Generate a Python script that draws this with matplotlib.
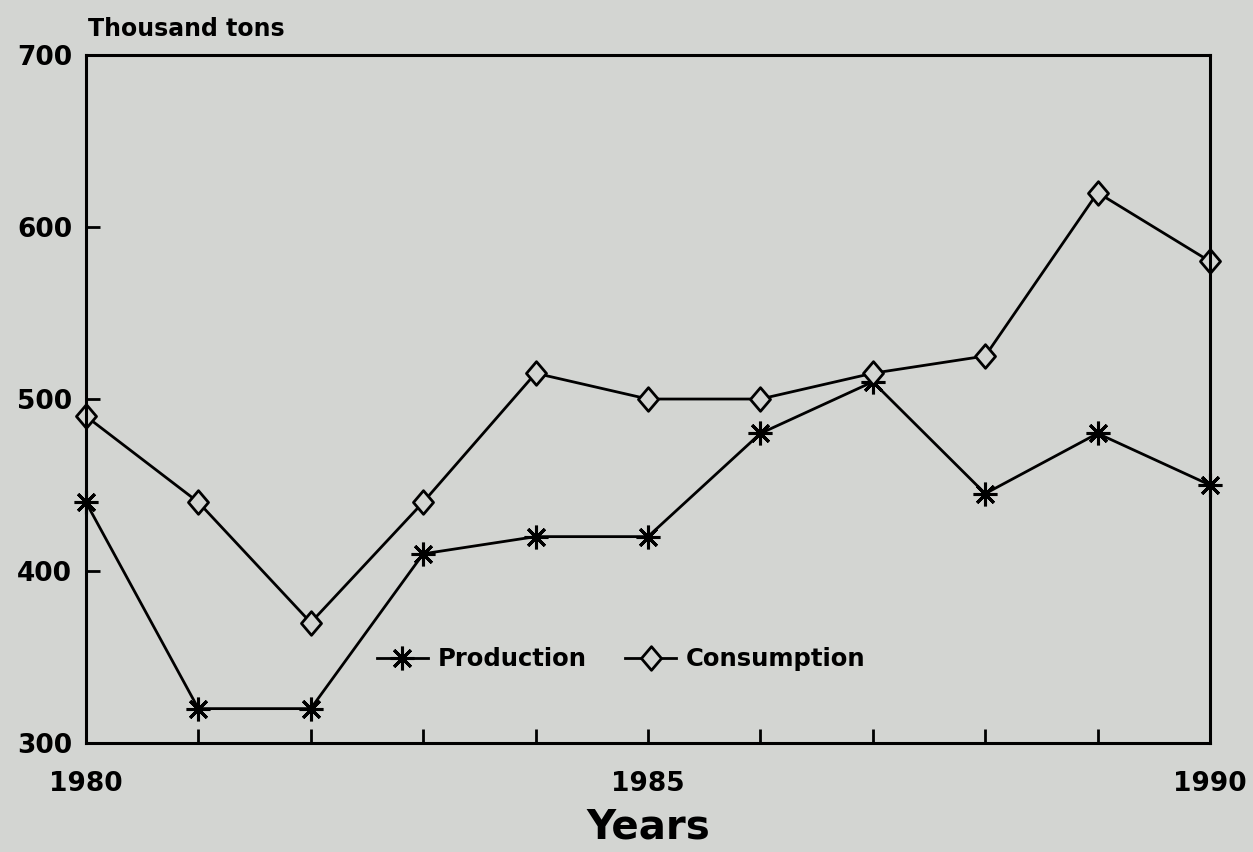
import matplotlib.pyplot as plt
from matplotlib.path import Path

years = [1980, 1981, 1982, 1983, 1984, 1985, 1986, 1987, 1988, 1989, 1990]
production = [440, 320, 320, 410, 420, 420, 480, 510, 445, 480, 450]
consumption = [490, 440, 370, 440, 515, 500, 500, 515, 525, 620, 580]

year_labels = [1980, 1985, 1990]
y_ticks = [300, 400, 500, 600, 700]

bg = '#d3d5d2'
plt.rcParams['font.family'] = 'DejaVu Sans'
plt.rcParams['font.weight'] = 'bold'

# open diamond, a bit taller than wide
diamond = Path([(0, 1), (0.85, 0), (0, -1), (-0.85, 0), (0, 1)],
               [Path.MOVETO, Path.LINETO, Path.LINETO, Path.LINETO, Path.CLOSEPOLY])

fig = plt.figure(figsize=(12.53, 8.52), dpi=100, facecolor=bg)
ax = fig.add_axes([0.0686, 0.1279, 0.8971, 0.8075], facecolor=bg)

ax.plot(years, production, color='black', linewidth=2.0,
        marker=(8, 2, 0), markersize=17, markeredgewidth=2.2,
        label='Production', clip_on=False)
ax.plot(years, consumption, color='black', linewidth=2.0,
        marker=diamond, markersize=17, markeredgewidth=2.0,
        markerfacecolor=bg, markeredgecolor='black',
        label='Consumption', clip_on=False)

ax.set_xlim(1980, 1990)
ax.set_ylim(300, 700)
ax.set_xticks(years)
ax.set_xticklabels([str(y) if y in year_labels else '' for y in years])
ax.set_yticks(y_ticks)

ax.tick_params(axis='both', direction='in', length=10, width=2,
               labelsize=19, pad=10)
ax.tick_params(axis='x', pad=20)
for lab in ax.get_xticklabels() + ax.get_yticklabels():
    lab.set_fontweight('bold')

for s in ax.spines.values():
    s.set_linewidth(2.2)

ax.set_xlabel('Years', fontsize=29, fontweight='bold', labelpad=8)
ax.text(0.002, 1.02, 'Thousand tons', transform=ax.transAxes,
        fontsize=17, fontweight='bold', ha='left', va='bottom')

leg = ax.legend(loc='center left', bbox_to_anchor=(0.25, 0.122), ncol=2,
                frameon=False, fontsize=17.5, handlelength=2.1,
                columnspacing=1.6, handletextpad=0.4, borderaxespad=0)
for t in leg.get_texts():
    t.set_fontweight('bold')

fig.savefig('out.png', dpi=100, facecolor=bg)
